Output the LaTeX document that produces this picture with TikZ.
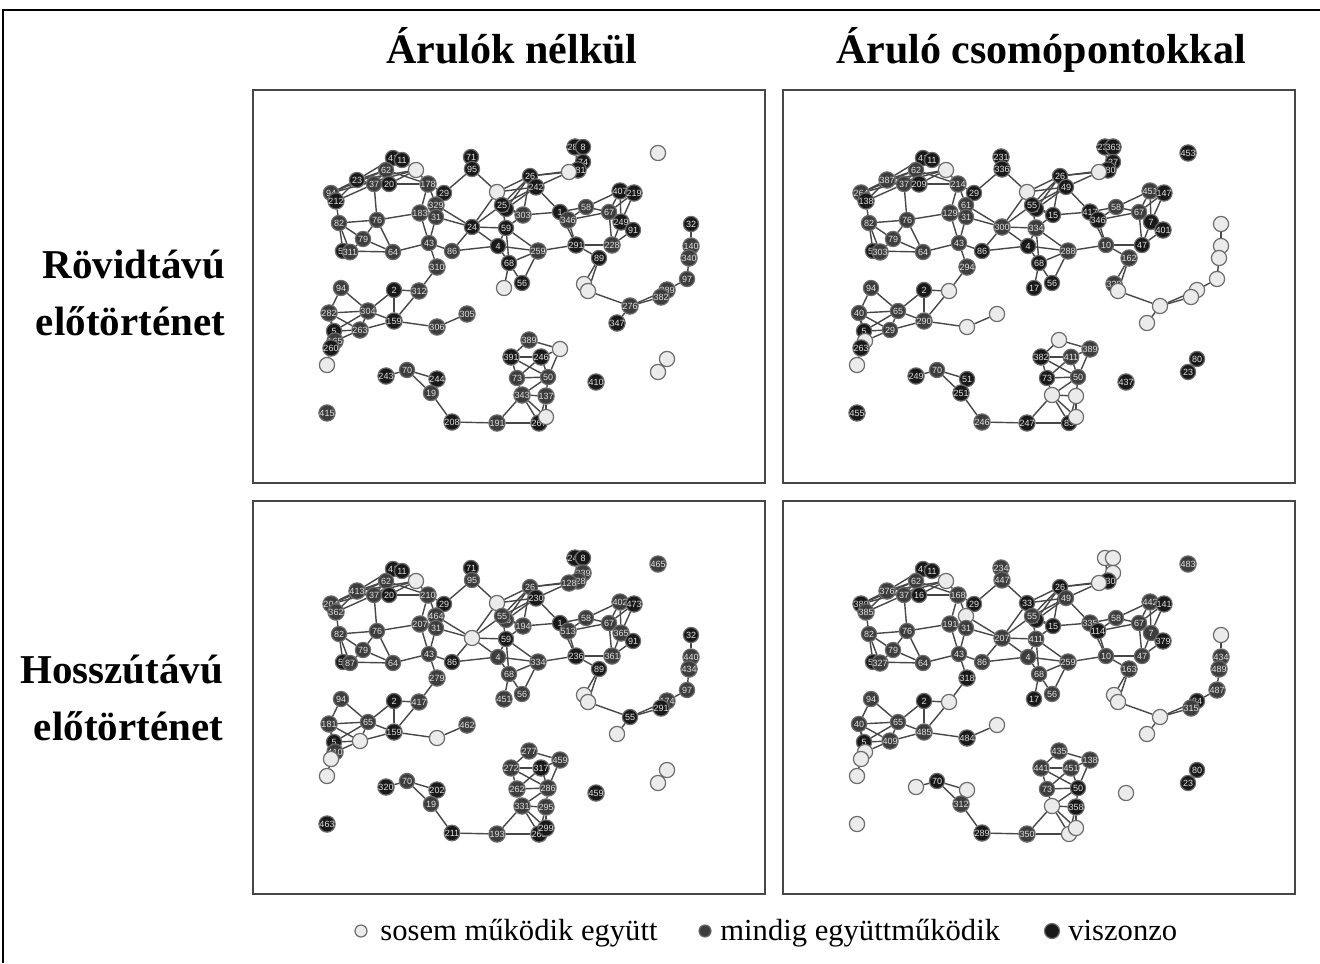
\documentclass[tikz,border=0pt]{standalone}
\usepackage{fontspec}
\setmainfont{Liberation Serif}
\newfontfamily\idfont{Liberation Sans}
\usetikzlibrary{positioning,backgrounds}

\tikzset{
  net/.style={circle, draw=black!58, line width=0.6pt, minimum size=7.6pt, inner sep=0pt,
    font=\idfont\fontsize{4.5}{4}\selectfont, text=black!12},
  nev/.style={net, fill=black!8},
  alw/.style={net, fill=black!76},
  rec/.style={net, fill=black!90},
  link/.style={draw=black!72, line width=0.7pt},
  panel/.style={draw=black!72, line width=1pt},
  head/.style={font=\fontsize{21}{25}\selectfont\bfseries, anchor=base},
  rowlab/.style={font=\fontsize{20.5}{28.5}\selectfont\bfseries, align=right, anchor=east},
  legtext/.style={font=\fontsize{15.3}{18}\selectfont, anchor=base west, inner sep=0pt},
}

% positions of the nodes (first panel)
\newcommand\netpos{a/393/158, b/402/160, c/386/170, d/416/170, e/357/180, f/374/184,
  g/389/184, h/428/184, i/444/193, j/331/193, k/336/201, l/471/157, m/472/169,
  n/497/192, o/502/205, oo/506/209, p/523/215, q/420/213, r/436/205, s/436/217,
  t/339/223, u/377/220, v/472/227, w/506/228, x/363/239, y/429/243, z/498/246,
  A/343/251, B/350/252, C/393/252, D/452/251, E/509/263, F/437/267, G/504/288,
  H/522/283, I/538/251, J/575/147, K/583/147, L/583/162, M/578/170, N/569/172,
  O/658/153, P/530/176, Q/536/187, R/560/212, S/568/220, T/586/207, U/620/191,
  V/634/193, W/609/212, X/621/222, Y/633/230, Z/576/245, a2/612/245, b2/599/258,
  c2/584/284, d2/588/291, e2/691/224, f2/691/246, g2/689/258, h2/687/279,
  i2/667/290, j2/661/297, k2/630/306, l2/617/323, m2/341/288, n2/394/290,
  p2/419/291, q2/329/313, r2/368/311, s2/394/321, t2/437/327, u2/467/314,
  v2/334/331, w2/360/330, x2/335/341, y2/331/348, z2/327/365, A3/386/376,
  B3/407/370, C3/437/379, D3/431/393, E3/327/413, F3/452/422, G3/497/423,
  H3/529/340, I3/560/349, J3/511/357, K3/541/357, L3/517/378, M3/548/377,
  N3/522/395, O3/546/396, P3/539/423, Q3/546/417, R3/596/382, S3/667/359,
  T3/658/372}

% connectors
\newcommand\netedges{j/k, j/e, k/e, j/c, k/f, e/f, e/c, e/a, e/d, j/d, f/c, f/g, f/u,
  c/a, c/b, c/g, a/b, a/g, b/d, g/d, g/h, f/h, d/h, c/h, h/i, h/q, h/r, k/t,
  t/u, t/x, t/A, t/B, x/u, x/B, x/C, u/C, u/q, A/B, A/C, q/y, q/s, r/s, s/y,
  r/v, s/v, i/m, m/n, l/m, y/C, y/D, y/F, D/v, D/z, v/w, v/o, v/n, v/z, F/p2,
  n/o, n/P, n/Q, o/P, o/Q, o/w, o/p, oo/P, oo/Q, oo/p, w/p, w/z, w/E, w/I, z/E,
  z/I, E/I, E/H, E/G, H/I, p/R, p/P, Q/R, Q/P, P/N, P/M, Q/N, N/M,
  R/S, R/T, S/T, R/Z, S/Z, T/W, S/W, T/U, W/U, W/V, U/V, U/X, V/X, W/X, X/Y,
  X/a2, a2/Y, W/a2, Z/a2, Z/b2, b2/c2, b2/d2, I/Z, J/K, J/L, K/L, L/M, J/M,
  d2/k2, k2/j2, k2/i2, k2/l2, j2/i2, i2/h2, h2/g2, g2/f2, f2/e2,
  m2/q2, m2/r2, q2/r2, q2/v2, q2/w2, r2/n2, r2/w2, r2/s2, r2/v2, n2/s2, n2/p2,
  p2/s2, s2/w2, s2/t2, t2/u2, v2/w2, v2/x2, x2/y2, y2/z2, v2/y2, w2/x2, q2/x2,
  A3/B3, B3/C3, B3/D3, C3/D3, D3/F3, F3/G3, G3/N3, G3/P3,
  H3/I3, H3/J3, J3/K3, I3/K3, I3/M3, J3/L3, J3/M3, K3/L3, K3/M3, L3/M3, L3/N3,
  M3/N3, M3/O3, N3/O3, N3/P3, N3/Q3, O3/P3, O3/Q3, P3/Q3, S3/T3}

\newcommand\drawnet[3]{%
  \begin{scope}[shift={#2}]
    \draw[panel] (253,90) rectangle (765,483);
    \foreach \key/\x/\y in \netpos \coordinate (pos\key) at (\x,\y);
    \foreach \key/\typ/\lab in {#3} \node[\typ] (#1\key) at (pos\key) {\lab};
    \begin{pgfonlayer}{background}
      \foreach \ea/\eb in \netedges \draw[link] (#1\ea) -- (#1\eb);
    \end{pgfonlayer}
  \end{scope}}

\begin{document}
\begin{tikzpicture}[x=0.5pt, y=-0.5pt]
\useasboundingbox (0,0) rectangle (1320,963);
\draw[line width=0.8pt] (3,963) -- (3,10) -- (1320,10);

\node[head] (titA) at (512,64) {Árulók nélkül};
\node[head] (titB) at (1041,64) {Áruló csomópontokkal};
\node[rowlab] (rowA) at (232,293) {Rövidtávú\\előtörténet};
\node[rowlab] (rowB) at (230,698) {Hosszútávú\\előtörténet};

% short history, no traitors
\drawnet{A}{(0,0)}{a/rec/41, b/rec/11, c/alw/62, d/nev/, e/rec/23, f/alw/37, g/rec/20,
  h/alw/178, i/rec/29, j/alw/94, k/rec/212, l/rec/71, m/rec/95, n/nev/, oo/rec/5,
  o/rec/25, p/alw/303, q/alw/183, r/alw/329, s/alw/31, t/alw/82, u/alw/76, v/rec/24,
  w/rec/59, x/alw/79, y/alw/43, z/rec/4, A/rec/53, B/alw/311, C/alw/64, D/alw/86,
  E/rec/68, F/alw/310, G/nev/, H/rec/56, I/alw/259, J/rec/288, K/rec/8, L/rec/74,
  M/rec/181, N/nev/, O/nev/, P/rec/26, Q/rec/242, R/rec/1, S/alw/346, T/alw/58,
  U/rec/407, V/rec/219, W/alw/67, X/rec/249, Y/rec/91, Z/rec/291, a2/alw/228,
  b2/rec/89, c2/nev/, d2/nev/, e2/rec/32, f2/alw/140, g2/alw/340, h2/alw/97,
  i2/alw/289, j2/alw/382, k2/alw/276, l2/rec/347, m2/alw/94, n2/rec/2, p2/alw/312,
  q2/alw/282, r2/alw/304, s2/rec/159, t2/alw/306, u2/alw/305, v2/rec/5, w2/alw/263,
  x2/alw/165, y2/rec/260, z2/nev/, A3/rec/243, B3/alw/70, C3/rec/244, D3/alw/19,
  E3/alw/415, F3/rec/208, G3/alw/191, H3/alw/389, I3/nev/, J3/rec/391, K3/rec/246,
  L3/alw/73, M3/alw/50, N3/alw/343, O3/alw/137, P3/rec/267, Q3/nev/, R3/rec/410,
  S3/nev/, T3/nev/}

% short history, with traitors
\drawnet{B}{(530,0)}{a/rec/41, b/rec/11, c/alw/62, d/nev/, e/alw/387, f/alw/37,
  g/rec/209, h/alw/214, i/rec/29, j/alw/264, k/rec/138, l/rec/231, m/rec/336, n/nev/,
  oo/rec/8, o/rec/55, p/rec/15, q/alw/129, r/alw/61, s/alw/31, t/alw/82, u/alw/76,
  v/alw/300, w/alw/334, x/alw/79, y/alw/43, z/rec/4, A/rec/58, B/alw/303, C/alw/64,
  D/rec/86, E/rec/68, F/alw/294, G/rec/17, H/rec/56, I/alw/288, J/rec/235, K/rec/363,
  L/rec/27, M/rec/180, N/nev/, O/rec/453, P/rec/26, Q/rec/49, R/rec/417, S/rec/346,
  T/alw/58, U/alw/451, V/rec/147, W/alw/67, X/rec/7, Y/rec/401, Z/alw/10, a2/rec/47,
  b2/alw/162, c2/alw/329, d2/nev/, e2/nev/, f2/nev/, g2/nev/, h2/nev/, i2/nev/,
  j2/nev/, k2/nev/, l2/nev/, m2/alw/94, n2/rec/2, p2/nev/, q2/alw/40, r2/alw/65,
  s2/alw/290, t2/nev/, u2/nev/, v2/rec/5, w2/alw/29, x2/nev/, y2/rec/263, z2/nev/,
  A3/rec/249, B3/alw/70, C3/rec/51, D3/rec/251, E3/rec/455, F3/alw/246, G3/rec/247,
  H3/nev/, I3/alw/389, J3/rec/382, K3/alw/411, L3/rec/73, M3/alw/50, N3/nev/,
  O3/nev/, P3/rec/83, Q3/nev/, R3/rec/437, S3/rec/80, T3/rec/23}

% long history, no traitors
\drawnet{C}{(0,411)}{a/rec/41, b/rec/11, c/alw/62, d/nev/, e/alw/413, f/alw/37,
  g/rec/20, h/alw/210, i/rec/29, j/alw/204, k/alw/362, l/rec/71, m/alw/95, n/nev/,
  oo/alw/46, o/alw/55, p/alw/194, q/alw/207, r/alw/464, s/alw/31, t/alw/82, u/alw/76,
  v/nev/, w/rec/59, x/alw/79, y/alw/43, z/alw/4, A/rec/58, B/alw/87, C/alw/64,
  D/rec/86, E/alw/68, F/alw/279, G/alw/451, H/alw/56, I/alw/334, J/rec/248, K/rec/8,
  L/alw/239, M/alw/228, N/alw/128, O/alw/465, P/alw/26, Q/rec/230, R/rec/1, S/alw/513,
  T/alw/58, U/alw/402, V/rec/473, W/alw/67, X/alw/365, Y/rec/91, Z/rec/236,
  a2/alw/361, b2/rec/89, c2/nev/, d2/nev/, e2/rec/32, f2/alw/440, g2/alw/434,
  h2/alw/97, i2/alw/174, j2/rec/291, k2/rec/55, l2/nev/, m2/alw/94, n2/rec/2,
  p2/alw/417, q2/alw/181, r2/alw/65, s2/rec/159, t2/nev/, u2/alw/462, v2/rec/5,
  w2/nev/, x2/alw/410, y2/nev/, z2/nev/, A3/rec/320, B3/alw/70, C3/rec/202, D3/alw/19,
  E3/rec/463, F3/rec/211, G3/alw/193, H3/alw/277, I3/alw/459, J3/alw/272, K3/rec/317,
  L3/alw/262, M3/alw/286, N3/alw/331, O3/alw/295, P3/rec/269, Q3/rec/299, R3/rec/459,
  S3/nev/, T3/nev/}

% long history, with traitors
\drawnet{D}{(530,411)}{a/rec/41, b/rec/11, c/alw/62, d/nev/, e/alw/376, f/alw/37,
  g/rec/16, h/alw/168, i/rec/29, j/rec/380, k/alw/385, l/alw/234, m/alw/447, n/rec/33,
  oo/rec/8, o/alw/55, p/rec/15, q/alw/191, r/nev/, s/alw/31, t/alw/82, u/alw/76,
  v/alw/207, w/alw/411, x/alw/79, y/alw/43, z/alw/4, A/rec/53, B/alw/327, C/alw/64,
  D/alw/86, E/alw/68, F/rec/318, G/rec/17, H/alw/56, I/alw/259, J/nev/, K/nev/,
  L/nev/, M/rec/330, N/nev/, O/alw/483, P/rec/26, Q/alw/49, R/alw/335, S/rec/114,
  T/alw/58, U/alw/442, V/rec/141, W/alw/67, X/alw/7, Y/rec/379, Z/alw/10, a2/alw/47,
  b2/alw/163, c2/nev/, d2/nev/, e2/nev/, f2/alw/434, g2/alw/489, h2/alw/487,
  i2/rec/84, j2/alw/315, k2/nev/, l2/nev/, m2/alw/94, n2/rec/2, p2/nev/, q2/alw/40,
  r2/alw/65, s2/alw/485, t2/rec/484, u2/nev/, v2/rec/5, w2/alw/409, x2/nev/, y2/nev/,
  z2/nev/, A3/nev/, B3/rec/70, C3/nev/, D3/alw/312, E3/nev/, F3/rec/289, G3/alw/350,
  H3/alw/435, I3/alw/138, J3/alw/441, K3/alw/451, L3/alw/73, M3/rec/50, N3/nev/,
  O3/rec/358, P3/nev/, Q3/nev/, R3/nev/, S3/rec/80, T3/rec/23}

% legend
\node[nev, minimum size=6pt] (kn) at (361,931) {};
\node[legtext] (tn) at (380,940) {sosem működik együtt};
\node[alw, minimum size=6pt] (ka) at (705,931) {};
\node[legtext] (ta) at (720,940) {mindig együttműködik};
\node[rec, minimum size=7.5pt] (kr) at (1052,931) {};
\node[legtext] (tr) at (1068,940) {viszonzo};
\end{tikzpicture}
\end{document}
